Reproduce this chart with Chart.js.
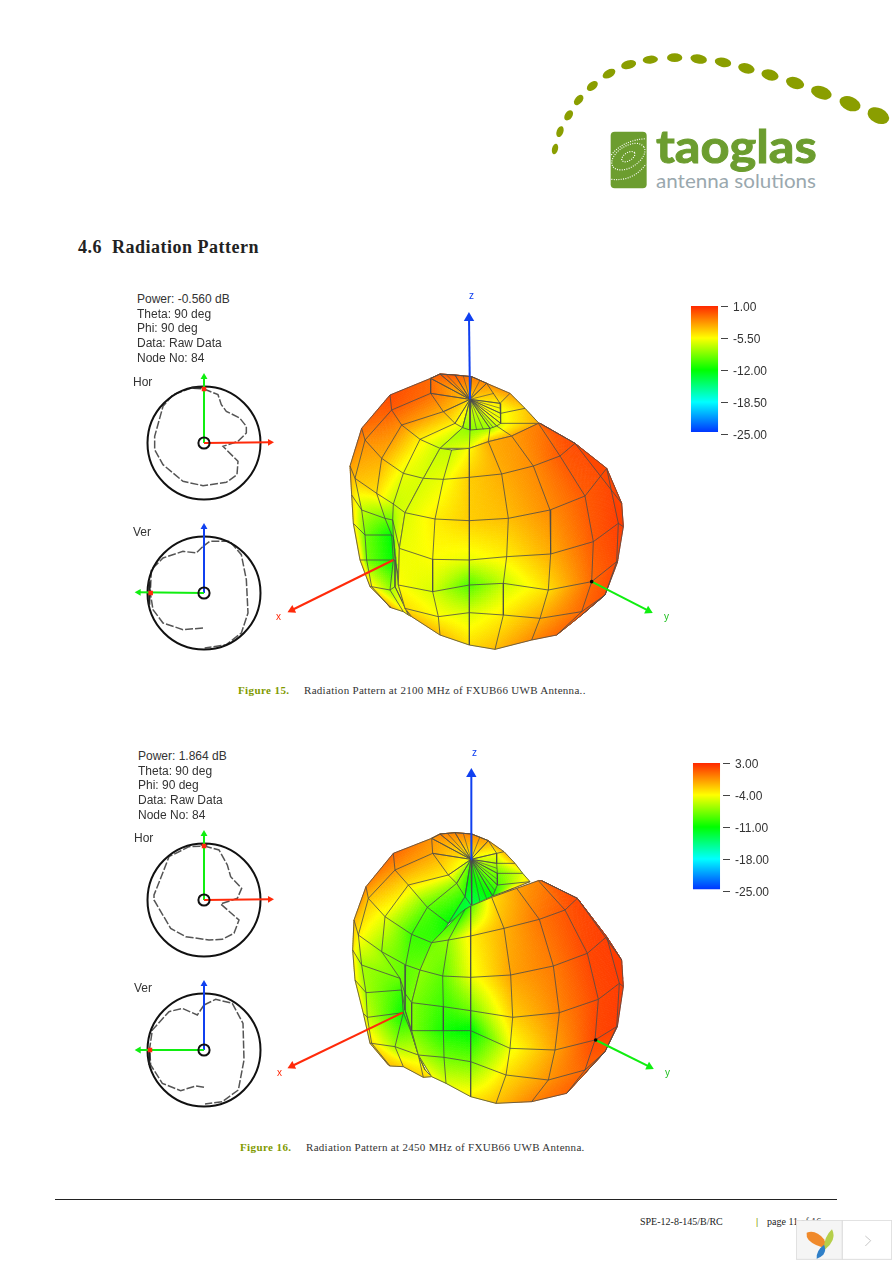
<!DOCTYPE html>
<html>
<head>
<meta charset="utf-8">
<title>Radiation Pattern</title>
<script src="https://cdn.jsdelivr.net/npm/chart.js@4"></script>
<style>
  html, body { margin: 0; background: #fff; }
  #page { position: relative; width: 892px; height: 1262px; overflow: hidden; background: #fff; }
  #page canvas, #page svg { position: absolute; }
  #page canvas.soft { filter: blur(0.4px); }
  .t { position: absolute; white-space: pre; line-height: 1; }
  .info { font: 12px "Liberation Sans", sans-serif; color: #333; }
  .cap { font: 11px "Liberation Serif", serif; color: #333; letter-spacing: 0.3px; }
  .capb { font: bold 11px "Liberation Serif", serif; color: #7f9a00; letter-spacing: 0.4px; }
  .foot { font: 10px "Liberation Serif", serif; color: #222; }
  .ax { font: 10px "Liberation Sans", sans-serif; }
</style>
</head>
<body>
<div id="page">
  <svg style="left:540px;top:40px" width="352" height="160" viewBox="0 0 1056 480">
    <g id="dots" fill="#8a9e00"></g>
    <rect x="212" y="275" width="108" height="170" rx="12" fill="#6c9d2f"/>
    <g fill="none" stroke="#fff" stroke-width="3.5" stroke-dasharray="3 4">
      <ellipse cx="265" cy="350" rx="55" ry="32" transform="rotate(-32 265 350)"/>
      <ellipse cx="265" cy="350" rx="22" ry="12" transform="rotate(-32 265 350)"/>
      <path d="M214 345 Q250 300 318 296"/>
      <path d="M214 418 Q280 425 318 372"/>
    </g>
    <text x="348" y="368" font-family="Lato" font-weight="700" font-size="140" fill="#6c9d2f" stroke="#6c9d2f" stroke-width="3" textLength="482" lengthAdjust="spacingAndGlyphs">taoglas</text>
    <text x="348" y="445" font-family="Lato" font-size="56" fill="#9aa8ae" textLength="480" lengthAdjust="spacingAndGlyphs">antenna solutions</text>
  </svg>

  <div class="t" style="left:78px;top:237px;font:bold 18px 'Liberation Serif',serif;color:#222;letter-spacing:0.5px">4.6  Radiation Pattern</div>

  <div class="t capb" style="left:238px;top:684px">Figure 15.</div>
  <div class="t cap" style="left:304px;top:684px">Radiation Pattern at 2100 MHz of FXUB66 UWB Antenna..</div>
  <div class="t capb" style="left:240px;top:1141px">Figure 16.</div>
  <div class="t cap" style="left:306px;top:1141px">Radiation Pattern at 2450 MHz of FXUB66 UWB Antenna.</div>

  <div style="position:absolute;left:55px;top:1199px;width:782px;height:1px;background:#222"></div>
  <div class="t foot" style="left:640px;top:1216px">SPE-12-8-145/B/RC</div>
  <div class="t foot" style="left:756px;top:1216px;color:#7f9a00;font-weight:bold">|</div>
  <div class="t foot" style="left:767px;top:1216px">page 11 of 16</div>
  <svg style="left:796px;top:1220px" width="96" height="40" viewBox="0 0 288 120">
    <rect x="1" y="1" width="138" height="117" fill="#f5f5f5" stroke="#ddd" stroke-width="3"/>
    <rect x="139" y="1" width="148" height="117" fill="#fff" stroke="#ddd" stroke-width="3"/>
    <path d="M208 48 L224 62 L208 78" fill="none" stroke="#bbb" stroke-width="2.5"/>
    <path d="M32 38 Q60 28 84 58 Q92 72 90 84 Q56 78 38 60 Q30 50 32 38Z" fill="#f08a2c"/>
    <path d="M84 86 Q84 50 108 28 Q116 44 110 60 Q102 78 88 88Z" fill="#b5cf4a"/>
    <path d="M62 116 Q60 92 84 74 Q92 90 82 104 Q74 112 62 116Z" fill="#2f7fc8"/>
  </svg>

  <canvas class="soft" id="big15" width="400" height="375" style="left:280px;top:285px"></canvas>
  <canvas class="soft" id="big16" width="400" height="375" style="left:280px;top:745px"></canvas>
  <canvas class="soft" id="hor15" width="160" height="160" style="left:124px;top:363px"></canvas>
  <canvas class="soft" id="ver15" width="160" height="160" style="left:124px;top:513px"></canvas>
  <canvas class="soft" id="hor16" width="160" height="160" style="left:124px;top:820px"></canvas>
  <canvas class="soft" id="ver16" width="160" height="160" style="left:124px;top:970px"></canvas>
  <canvas id="bar15" width="110" height="150" style="left:680px;top:296px"></canvas>
  <canvas id="bar16" width="110" height="150" style="left:682px;top:753px"></canvas>

  <div id="labels"></div>
</div>

<script>
// readouts printed next to each pattern
const info15 = ["Power: -0.560 dB", "Theta: 90 deg", "Phi: 90 deg", "Data: Raw Data", "Node No: 84"];
const info16 = ["Power: 1.864 dB", "Theta: 90 deg", "Phi: 90 deg", "Data: Raw Data", "Node No: 84"];

// colour scales (dB)
const scale15Top = 1;
const scale15Step = 6.5;
const scale16Top = 3;
const scale16Step = 7;
const scaleBottom = -25;
const colourStops = [[255, 40, 0], [255, 255, 0], [0, 255, 0], [0, 255, 255], [0, 40, 255]];

// 3D mesh of figure 15: projected vertices and gain in dB at each vertex
const pole15 = [390, 118];
const back15XY = [
  [pole15, [272, 55], [150, 105], [65, 205], [30, 318], [35, 405], [40, 490], [60, 600], [90, 680], [150, 740]],
  [pole15, [272, 100], [155, 150], [75, 240], [45, 355], [65, 450], [75, 525], [80, 600], [95, 680], [150, 742]],
  [pole15, [310, 155], [185, 195], [125, 295], [110, 400], [135, 475], [155, 525], [160, 600], [150, 690], [190, 755]],
  [pole15, [345, 190], [240, 238], [190, 340], [160, 432], [158, 480], [160, 530], [165, 600], [165, 680], [205, 765]],
  [pole15, [368, 203], [300, 265], [250, 355], [195, 458], [178, 565], [175, 675], [195, 745], [205, 760], [215, 770]]
];
const back15Db = [
  [-4, -1, 0, -1, -2.5, -4, -4.5, -4, -3.5, -3],
  [-4, -1, -0.5, -2, -3.5, -7, -9, -9, -5, -3],
  [-4, -3, -2, -3, -4.5, -9, -12, -12, -8, -5],
  [-5, -5, -5, -6, -7, -9, -11.5, -9, -7, -5],
  [-5, -6.5, -7, -6.5, -6.5, -6, -5.5, -5, -4, -4]
];
const cap15XY = [
  [pole15, [272, 55], [272, 55]],
  [pole15, [300, 42], [300, 42]],
  [pole15, [345, 45], [345, 45]],
  [pole15, [395, 50], [395, 50]],
  [pole15, [440, 70], [440, 70]],
  [pole15, [480, 130], [510, 100]],
  [pole15, [482, 160], [555, 145]],
  [pole15, [482, 190], [597, 190]],
  [pole15, [470, 198], [515, 228]],
  [pole15, [450, 205], [445, 245]],
  [pole15, [390, 210], [388, 265]],
  [pole15, [368, 203], [300, 265]]
];
const cap15Db = [
  [-4, -1, -1], [-4, -0.5, -0.5], [-4, -0.5, -0.5], [-4, -1.5, -1.5], [-4, -2, -2], [-4.5, -5, -2.5],
  [-5, -6, -4], [-5, -6, -3], [-5.5, -7, -3], [-6, -8, -3.5], [-6, -8.5, -6], [-5.5, -8, -7]
];
const fan15 = [[300, 42], [320, 45], [345, 45], [370, 48], [395, 50], [420, 60], [440, 70], [462, 100], [480, 130], [482, 145], [482, 160], [482, 175], [482, 190], [470, 198], [460, 203], [450, 205], [430, 208], [410, 210], [390, 210], [368, 203], [345, 190], [310, 155], [272, 100], [272, 55]];
const front15XY = [
  [[300, 265], [335, 270], [388, 265], [445, 245], [515, 228], [595, 190], [600, 190], [600, 190]],
  [[250, 355], [310, 358], [388, 352], [485, 342], [580, 318], [660, 288], [705, 250], [705, 250]],
  [[195, 458], [285, 477], [388, 482], [505, 475], [630, 450], [735, 408], [800, 325], [845, 430]],
  [[178, 565], [278, 598], [388, 600], [500, 590], [632, 582], [760, 545], [835, 490], [850, 500]],
  [[175, 675], [278, 695], [388, 675], [490, 670], [625, 690], [755, 665], [830, 605], [832, 608]],
  [[195, 745], [295, 770], [388, 758], [490, 765], [600, 775], [725, 755], [795, 705], [795, 705]],
  [[215, 770], [300, 825], [388, 855], [465, 868], [575, 840], [650, 825], [725, 765], [725, 765]]
];
const front15Db = [
  [-7, -7, -5.5, -3, -2.5, -1.5, -0.5, -0.5],
  [-6.5, -6, -4, -3, -2, -0.5, 0, 0],
  [-6.5, -5, -4, -3.5, -2, -0.5, 0, 0],
  [-6, -5.5, -6, -5, -3, -0.5, 0.3, 0.3],
  [-5.5, -6.5, -10, -7, -4.5, -1, 0, 0],
  [-4.5, -5.5, -6.5, -5, -3, -1, -0.2, -0.2],
  [-3.5, -3.5, -4.5, -3.5, -2, -1, -0.5, -0.5]
];

// 3D mesh of figure 16
const pole16 = [393, 118];
const back16XY = [
  [pole16, [275, 55], [160, 100], [78, 200], [42, 300], [38, 390], [45, 480], [70, 580], [90, 670], [145, 735]],
  [pole16, [278, 100], [165, 150], [85, 235], [55, 345], [65, 435], [78, 518], [82, 592], [95, 670], [150, 738]],
  [pole16, [325, 165], [205, 195], [135, 290], [125, 395], [180, 475], [185, 510], [190, 578], [165, 680], [190, 740]],
  [pole16, [350, 190], [262, 262], [215, 343], [197, 435], [195, 520], [195, 570], [215, 640], [235, 705], [250, 772]],
  [pole16, [375, 230], [325, 310], [285, 372], [240, 450], [215, 548], [215, 632], [235, 705], [255, 750], [275, 770]]
];
const back16Db = [
  [-3, -0.5, 1, 0, -1.5, -3, -3.5, -3.5, -2, -1],
  [-4, -1, -0.5, -2, -3.5, -6.5, -6.5, -5.5, -3, -2],
  [-5, -3.5, -3, -4.5, -7, -8, -9.5, -11, -6.5, -2.5],
  [-7, -7, -8.5, -9.5, -8.5, -8.5, -9, -8, -5, -2.5],
  [-9, -10, -11, -9.5, -8, -7.5, -7.5, -6, -4, -3]
];
const cap16XY = [
  [pole16, [275, 55], [275, 55]],
  [pole16, [300, 42], [300, 42]],
  [pole16, [345, 38], [345, 38]],
  [pole16, [395, 42], [395, 42]],
  [pole16, [445, 62], [445, 62]],
  [pole16, [470, 100], [492, 95]],
  [pole16, [470, 130], [525, 130]],
  [pole16, [472, 160], [548, 160]],
  [pole16, [472, 195], [570, 185]],
  [pole16, [458, 228], [520, 205]],
  [pole16, [395, 258], [395, 258]],
  [pole16, [375, 230], [325, 310]]
];
const cap16Db = [
  [-4, -0.5, -0.5], [-4, 0, 0], [-4, 0, 0], [-4, 0, 0], [-4, -1, -1], [-5, -4, -1.5],
  [-5, -6, -2.5], [-6, -8, -5], [-7, -9, -3], [-8, -11, -2], [-10, -13, -13], [-9, -12, -12]
];
const fan16 = [[300, 42], [322, 40], [345, 38], [370, 40], [395, 42], [420, 50], [445, 62], [470, 100], [470, 130], [471, 145], [472, 160], [472, 178], [472, 195], [465, 212], [458, 228], [440, 236], [420, 246], [395, 258], [375, 230], [350, 190], [325, 165], [278, 100], [275, 55]];
const front16XY = [
  [[360, 280], [375, 268], [392, 258], [455, 232], [530, 205], [595, 182], [605, 182], [605, 182]],
  [[275, 368], [325, 360], [392, 348], [492, 325], [598, 298], [675, 270], [712, 235], [712, 235]],
  [[240, 450], [308, 468], [392, 472], [512, 465], [640, 438], [742, 400], [800, 350], [845, 420]],
  [[215, 548], [310, 560], [392, 572], [518, 592], [658, 578], [775, 538], [838, 490], [850, 500]],
  [[215, 632], [310, 632], [392, 632], [510, 685], [645, 690], [765, 660], [830, 620], [832, 620]],
  [[235, 705], [312, 712], [392, 725], [498, 765], [625, 780], [735, 750], [795, 695], [795, 695]],
  [[275, 770], [318, 790], [392, 830], [468, 850], [575, 845], [680, 820], [735, 760], [735, 760]]
];
const front16Db = [
  [-10, -11, -9, -3, -1, 0, 1, 1],
  [-8, -7, -3.5, -1.5, 0.5, 1.5, 2, 2],
  [-7, -8.5, -4.5, -1, 0.3, 2, 2.3, 2.3],
  [-7.5, -9.5, -8, -2.5, 0, 2, 2.3, 2.3],
  [-7.5, -10.5, -11.5, -4.5, -1, 2, 2.3, 2.3],
  [-6, -8, -8, -3, -0.5, 1, 1.5, 1.5],
  [-4, -5, -3.5, -2, 0, 1, 1, 1]
];

// 2D cuts
const hor15Curve = [[253, 328], [295, 345], [305, 375], [320, 395], [360, 415], [380, 440], [380, 460], [355, 485], [310, 500], [355, 545], [352, 585], [320, 608], [250, 618], [190, 605], [130, 555], [105, 510], [105, 470], [130, 380], [160, 345], [215, 325], [253, 328]];
const ver15Curve = [[250, 800], [270, 785], [330, 785], [365, 825], [380, 900], [385, 1000], [365, 1060], [320, 1095], [255, 1105], null, [250, 1045], [190, 1050], [130, 1030], [100, 990], [92, 940], [95, 870], [130, 835], [190, 815], [230, 820], [250, 800]];
const hor16Curve = [[255, 318], [300, 330], [325, 375], [335, 410], [368, 445], [355, 475], [305, 492], [360, 540], [345, 580], [310, 598], [270, 600], [200, 590], [155, 565], [105, 480], [105, 465], [125, 415], [150, 350], [210, 320], [255, 318]];
const ver16Curve = [[255, 795], [290, 778], [340, 790], [372, 850], [375, 960], [358, 1050], [310, 1085], [258, 1092], null, [255, 1042], [230, 1038], [185, 1052], [130, 1030], [95, 975], [92, 925], [100, 870], [150, 815], [190, 805], [235, 825], [255, 795]];
// stretches where the cut runs on top of the circle and looks heavier
const hor15Heavy = [[215, 324], [253, 323]];
const ver15Heavy = [[90, 905], [89, 975]];
const hor16Heavy = [[245, 314], [265, 314]];
const ver16Heavy = [[91, 935], [91, 975]];

const logoDots = [[45, 327, 16, 9, -75], [60, 275, 17, 10, -70], [86, 226, 17, 11, -55], [116, 180, 18, 11, -50], [157, 138, 19, 12, -40], [207, 101, 21, 12, -30], [266, 74, 23, 13, -15], [331, 59, 23, 12, -5], [404, 53, 23, 13, 0], [476, 57, 25, 14, 10], [549, 67, 25, 14, 12], [619, 85, 25, 15, 15], [690, 105, 26, 16, 15], [765, 129, 28, 17, 18], [844, 158, 32, 19, 20], [930, 191, 33, 21, 22], [1015, 227, 34, 23, 25]];

const RED = "#ff2a0a";
const GREEN = "#10ee10";
const BLUE = "#1040f0";
const MESH_LINE = "rgba(75,75,75,0.8)";

function dbColour(db, top) {
  const t = Math.min(1, Math.max(0, (top - db) / (top - scaleBottom))) * (colourStops.length - 1);
  const k = Math.min(colourStops.length - 2, Math.floor(t));
  const f = t - k;
  const c = colourStops[k].map((v, i) => Math.round(v + (colourStops[k + 1][i] - v) * f));
  return "rgb(" + c[0] + "," + c[1] + "," + c[2] + ")";
}

// paints the smooth shading of a mesh patch right before its wire lines
const meshShade = {
  id: "meshShade",
  beforeDatasetDraw(chart, args) {
    const ds = chart.data.datasets[args.index];
    if (!ds.meshXY) return;
    const ctx = chart.ctx;
    const xs = chart.scales.x;
    const ys = chart.scales.y;
    const px = ds.meshXY.map(row => row.map(p => [xs.getPixelForValue(p[0]), ys.getPixelForValue(p[1])]));
    const lerp = (a, b, f) => a + (b - a) * f;
    ctx.save();
    ctx.lineWidth = 0.8;
    for (let i = 0; i < px.length - 1; i++) {
      for (let j = 0; j < px[i].length - 1; j++) {
        const a = px[i][j], b = px[i][j + 1], c = px[i + 1][j], d = px[i + 1][j + 1];
        const da = ds.meshDb[i][j], db = ds.meshDb[i][j + 1], dc = ds.meshDb[i + 1][j], dd = ds.meshDb[i + 1][j + 1];
        const n = Math.max(1, Math.ceil(Math.max(Math.hypot(a[0] - c[0], a[1] - c[1]), Math.hypot(b[0] - d[0], b[1] - d[1])) / 2.5));
        const m = Math.max(1, Math.ceil(Math.max(Math.hypot(a[0] - b[0], a[1] - b[1]), Math.hypot(c[0] - d[0], c[1] - d[1])) / 2.5));
        const at = (u, v) => [
          lerp(lerp(a[0], b[0], v), lerp(c[0], d[0], v), u),
          lerp(lerp(a[1], b[1], v), lerp(c[1], d[1], v), u)
        ];
        for (let u = 0; u < n; u++) {
          for (let v = 0; v < m; v++) {
            const uc = (u + 0.5) / n, vc = (v + 0.5) / m;
            const col = dbColour(lerp(lerp(da, db, vc), lerp(dc, dd, vc), uc), ds.meshTop);
            const p1 = at(u / n, v / m), p2 = at(u / n, (v + 1) / m), p3 = at((u + 1) / n, (v + 1) / m), p4 = at((u + 1) / n, v / m);
            ctx.fillStyle = col;
            ctx.strokeStyle = col;
            ctx.beginPath();
            ctx.moveTo(p1[0], p1[1]);
            ctx.lineTo(p2[0], p2[1]);
            ctx.lineTo(p3[0], p3[1]);
            ctx.lineTo(p4[0], p4[1]);
            ctx.closePath();
            ctx.fill();
            ctx.stroke();
          }
        }
      }
    }
    ctx.restore();
  }
};

function toPoints(list) {
  return list.map(p => (p ? { x: p[0], y: p[1] } : { x: null, y: null }));
}

function meshDataset(xy, db, top) {
  let pts = [];
  xy.forEach(row => { pts = pts.concat(row, [null]); });
  for (let j = 0; j < xy[0].length; j++) {
    pts = pts.concat(xy.map(row => row[j]), [null]);
  }
  return {
    data: toPoints(pts),
    showLine: true,
    borderColor: MESH_LINE,
    borderWidth: 1,
    pointRadius: 0,
    meshXY: xy,
    meshDb: db,
    meshTop: top
  };
}

function fanDataset(pole, ends) {
  let pts = [];
  ends.forEach(e => { pts.push(pole, e, null); });
  return { data: toPoints(pts), showLine: true, borderColor: MESH_LINE, borderWidth: 0.8, pointRadius: 0 };
}

function arrowDataset(from, tip, colour, headSize) {
  const angle = Math.atan2(tip[0] - from[0], from[1] - tip[1]) * 180 / Math.PI;
  return {
    data: toPoints([from, tip]),
    showLine: true,
    borderColor: colour,
    borderWidth: 2,
    pointStyle: "triangle",
    pointRadius: [0, headSize],
    pointRotation: [0, angle],
    pointBackgroundColor: colour,
    pointBorderColor: colour,
    pointBorderWidth: 0
  };
}

function stackOrder(datasets) {
  // Chart.js paints higher order first
  datasets.forEach((ds, i) => { ds.order = datasets.length - i; });
  return datasets;
}

function hiddenScale(min, max, reverse) {
  return { type: "linear", min: min, max: max, reverse: !!reverse, display: false };
}

function drawBig(id, pole, back, backDb, cap, capDb, fan, front, frontDb, top, xTip, yStart, yTip, zTip, xStart) {
  const datasets = [
    meshDataset(back, backDb, top),
    meshDataset(cap, capDb, top),
    fanDataset(pole, fan),
    meshDataset(front, frontDb, top),
    arrowDataset(pole, zTip, BLUE, 6),
    arrowDataset(xStart, xTip, RED, 5),
    arrowDataset(yStart, yTip, GREEN, 5),
    { data: toPoints([yStart]), pointRadius: 1.8, pointBackgroundColor: "#000", pointBorderWidth: 0 }
  ];
  return new Chart(document.getElementById(id), {
    type: "scatter",
    data: { datasets: stackOrder(datasets) },
    options: {
      responsive: false,
      animation: false,
      events: [],
      layout: { padding: 0, autoPadding: false },
      plugins: { legend: { display: false }, tooltip: { enabled: false } },
      scales: { x: hiddenScale(-180, 1020), y: hiddenScale(-225, 900, true) }
    },
    plugins: [meshShade]
  });
}

function drawCut(id, cx, cy, curve, heavy, upColour, sideTip, sideColour, upTip, marker) {
  const datasets = [
    { data: toPoints(curve), showLine: true, borderColor: "#555", borderWidth: 1.5, borderDash: [8, 2], pointRadius: 0 },
    { data: toPoints([[cx, cy]]), pointRadius: 56.5, pointBackgroundColor: "transparent", pointBorderColor: "#111", pointBorderWidth: 2 },
    { data: toPoints(heavy), showLine: true, borderColor: "#222", borderWidth: 2, pointRadius: 0 },
    arrowDataset([cx, cy], upTip, upColour, 4),
    arrowDataset([cx, cy], sideTip, sideColour, 4),
    { data: toPoints([[cx, cy]]), pointRadius: 5.6, pointBackgroundColor: "transparent", pointBorderColor: "#111", pointBorderWidth: 2 },
    { data: toPoints([marker]), pointStyle: "rect", pointRadius: 3.2, pointBackgroundColor: RED, pointBorderWidth: 0 }
  ];
  return new Chart(document.getElementById(id), {
    type: "scatter",
    data: { datasets: stackOrder(datasets) },
    options: {
      responsive: false,
      animation: false,
      events: [],
      layout: { padding: 0, autoPadding: false },
      plugins: { legend: { display: false }, tooltip: { enabled: false } },
      scales: { x: hiddenScale(cx - 240, cx + 240), y: hiddenScale(cy - 240, cy + 240, true) }
    }
  });
}

function drawColourBar(id, top, step) {
  return new Chart(document.getElementById(id), {
    type: "bar",
    data: {
      labels: ["dB"],
      datasets: [{
        data: [[scaleBottom + 0.4, top]],
        barPercentage: 0.82,
        categoryPercentage: 1,
        backgroundColor(ctx) {
          const area = ctx.chart.chartArea;
          if (!area) return "#ff0";
          const g = ctx.chart.ctx.createLinearGradient(0, area.top, 0, area.bottom);
          colourStops.forEach((c, i) => g.addColorStop(i / (colourStops.length - 1), "rgb(" + c.join(",") + ")"));
          return g;
        }
      }]
    },
    options: {
      responsive: false,
      animation: false,
      events: [],
      layout: { padding: { left: 8, top: 10, bottom: 12, right: 0 } },
      plugins: { legend: { display: false }, tooltip: { enabled: false } },
      scales: {
        x: { display: false },
        y: {
          position: "right",
          min: scaleBottom,
          max: top,
          afterFit(scale) { scale.width = 69; scale.paddingTop = 0; scale.paddingBottom = 0; },
          ticks: {
            stepSize: step,
            padding: 5,
            labelOffset: 1.5,
            color: "#333",
            font: { family: "Liberation Sans", size: 12 },
            callback: v => Number(v).toFixed(2)
          },
          grid: { drawOnChartArea: false, drawTicks: true, tickLength: 7, tickColor: "#444" },
          border: { display: false }
        }
      }
    }
  });
}

function addLabel(cls, text, left, top, colour) {
  const el = document.createElement("div");
  el.className = "t " + cls;
  el.textContent = text;
  el.style.left = left + "px";
  el.style.top = top + "px";
  if (colour) el.style.color = colour;
  document.getElementById("labels").appendChild(el);
}

function addInfo(lines, left, top) {
  lines.forEach((line, i) => addLabel("info", line, left, top + i * 14.7));
}

document.getElementById("dots").innerHTML = logoDots.map(d =>
  '<ellipse cx="' + d[0] + '" cy="' + d[1] + '" rx="' + d[2] + '" ry="' + d[3] + '" transform="rotate(' + d[4] + " " + d[0] + " " + d[1] + ')"/>'
).join("");

addInfo(info15, 137, 292);
addInfo(info16, 138, 749);
addLabel("info", "Hor", 133, 375);
addLabel("info", "Ver", 133, 525);
addLabel("info", "Hor", 134, 831);
addLabel("info", "Ver", 134, 981);
addLabel("ax", "z", 469, 290, BLUE);
addLabel("ax", "x", 276, 611, RED);
addLabel("ax", "y", 664, 611, "#20c020");
addLabel("ax", "z", 472, 747, BLUE);
addLabel("ax", "x", 277, 1067, RED);
addLabel("ax", "y", 665, 1067, "#20c020");

drawBig("big15", pole15, back15XY, back15Db, cap15XY, cap15Db, fan15, front15XY, front15Db, scale15Top, [-144, 750], [755, 665], [925, 752], [387, -126], [160, 600]);
drawBig("big16", pole16, back16XY, back16Db, cap16XY, cap16Db, fan16, front16XY, front16Db, scale16Top, [-144, 738], [767, 660], [928, 740], [394, -138], [188, 578]);

drawCut("hor15", 253, 490, hor15Curve, hor15Heavy, GREEN, [451, 488], RED, [253, 292], [253, 328]);
drawCut("ver15", 253, 940, ver15Curve, ver15Heavy, BLUE, [57, 938], GREEN, [253, 742], [93, 940]);
drawCut("hor16", 255, 480, hor16Curve, hor16Heavy, GREEN, [453, 478], RED, [255, 282], [255, 318]);
drawCut("ver16", 255, 930, ver16Curve, ver16Heavy, BLUE, [59, 930], GREEN, [255, 732], [93, 930]);

drawColourBar("bar15", scale15Top, scale15Step);
drawColourBar("bar16", scale16Top, scale16Step);
</script>
</body>
</html>
